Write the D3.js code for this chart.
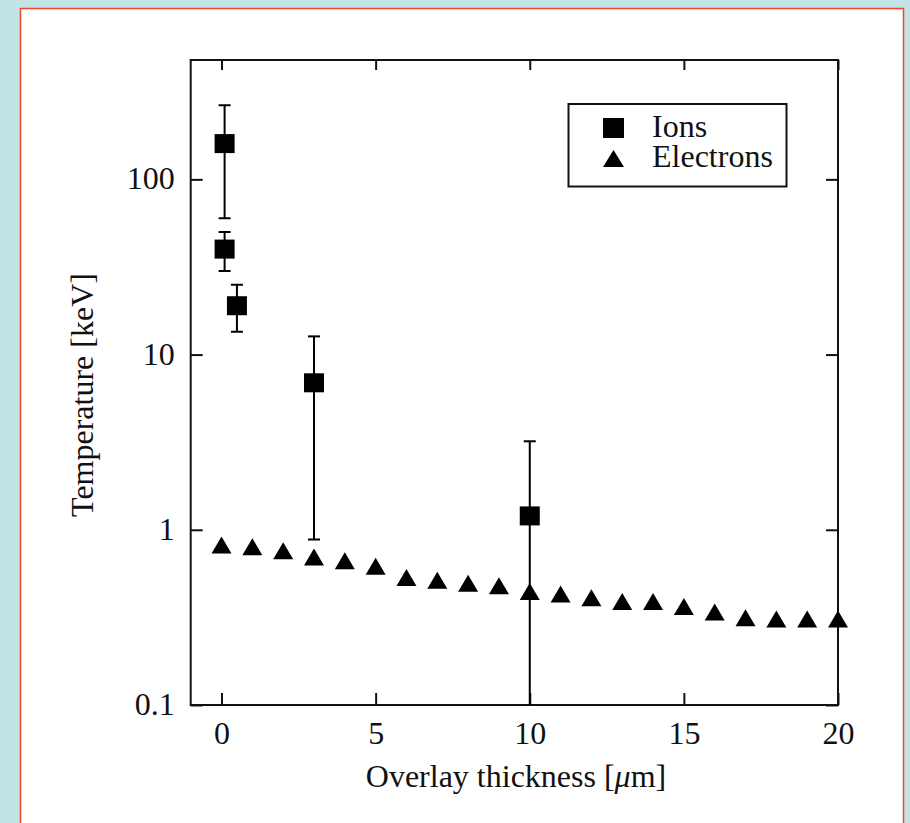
<!DOCTYPE html>
<html>
<head>
<meta charset="utf-8">
<script src="https://cdn.jsdelivr.net/npm/d3@7"></script>
<style>
  html, body { margin: 0; padding: 0; background: #c2e4e6; }
  svg { display: block; }
  text { font-family: "Liberation Serif", "Times New Roman", serif; fill: #111; }
</style>
</head>
<body>
<div id="canvas"></div>
<script>
// data
var ionX = [0.1, 0.1, 0.5, 3, 10];
var ionT = [160, 40, 19, 6.9, 1.2];
var ionHi = [265, 50, 25, 12.7, 3.2];
var ionLo = [60, 30, 13.5, 0.88, 0.05];

var elecX = [0, 1, 2, 3, 4, 5, 6, 7, 8, 9, 10, 11, 12, 13, 14, 15, 16, 17, 18, 19, 20];
var elecT = [0.82, 0.80, 0.76, 0.70, 0.665, 0.62, 0.535, 0.515, 0.495, 0.48, 0.445,
             0.43, 0.41, 0.39, 0.39, 0.365, 0.34, 0.315, 0.31, 0.31, 0.31];

var xTicks = [0, 5, 10, 15, 20];
var yTicks = [0.1, 1, 10, 100];

var W = 910, H = 823;
var LEFT = 190.7, RIGHT = 838, TOP = 60, BOTTOM = 705;
var FONT = 32;

var svg = d3.select('#canvas').append('svg')
    .attr('width', W)
    .attr('height', H);

// page panel
svg.append('rect')
    .attr('x', 20.5).attr('y', 8.5)
    .attr('width', 883).attr('height', 840)
    .attr('fill', 'white')
    .attr('stroke', '#f5432a')
    .attr('stroke-width', 1.5);

var x = d3.scaleLinear().domain([-1, 20]).range([LEFT, RIGHT]);
var y = d3.scaleLog().domain([0.1, 480]).range([BOTTOM, TOP]);

svg.append('clipPath').attr('id', 'plotclip')
  .append('rect')
    .attr('x', LEFT).attr('y', TOP)
    .attr('width', RIGHT - LEFT).attr('height', BOTTOM - TOP);

// axes, ticks point inward
var axB = svg.append('g')
    .attr('transform', 'translate(0,' + BOTTOM + ')')
    .call(d3.axisBottom(x).tickValues(xTicks).tickSize(-12).tickSizeOuter(0).tickPadding(16));
var axT = svg.append('g')
    .attr('transform', 'translate(0,' + TOP + ')')
    .call(d3.axisTop(x).tickValues(xTicks).tickSize(-10).tickSizeOuter(0).tickFormat(''));
var axL = svg.append('g')
    .attr('transform', 'translate(' + LEFT + ',0)')
    .call(d3.axisLeft(y).tickValues(yTicks).tickSize(-12).tickSizeOuter(0).tickPadding(16)
        .tickFormat(d3.format('~g')));
var axR = svg.append('g')
    .attr('transform', 'translate(' + RIGHT + ',0)')
    .call(d3.axisRight(y).tickValues(yTicks).tickSize(-12).tickSizeOuter(0).tickFormat(''));

[axB, axT, axL, axR].forEach(function(a) {
    a.select('.domain').remove();
    a.selectAll('line').attr('stroke', '#111').attr('stroke-width', 2);
    a.selectAll('text')
        .style('font-family', '"Liberation Serif", serif')
        .style('font-size', FONT + 'px')
        .attr('fill', '#111');
});
axL.selectAll('text').attr('dy', '0.3em');

// frame
svg.append('rect')
    .attr('x', LEFT).attr('y', TOP)
    .attr('width', RIGHT - LEFT).attr('height', BOTTOM - TOP)
    .attr('fill', 'none')
    .attr('stroke', '#111')
    .attr('stroke-width', 2);

// axis titles
svg.append('text')
    .attr('x', 516).attr('y', 787)
    .attr('text-anchor', 'middle')
    .style('font-size', FONT + 'px')
    .html('Overlay thickness [<tspan font-style="italic">\u03bc</tspan>m]');

svg.append('text')
    .attr('transform', 'translate(93,395) rotate(-90)')
    .attr('text-anchor', 'middle')
    .style('font-size', FONT + 'px')
    .text('Temperature [keV]');

var clipped = svg.append('g').attr('clip-path', 'url(#plotclip)');
var marks = svg.append('g');

function triPath(cx, cy, w, h) {
    return 'M' + (cx - w / 2) + ',' + (cy + h / 2) +
        'L' + cx + ',' + (cy - h / 2) +
        'L' + (cx + w / 2) + ',' + (cy + h / 2) + 'Z';
}

// electrons
marks.selectAll('.tri')
    .data(elecX)
    .enter()
    .append('path')
    .attr('class', 'tri')
    .attr('d', function(d, i) { return triPath(x(d), y(elecT[i]), 20, 17); })
    .attr('fill', 'black');

// ions with error bars
var CAP = 6;
ionX.forEach(function(d, i) {
    var cx = x(d);
    clipped.append('line')
        .attr('x1', cx).attr('x2', cx)
        .attr('y1', y(ionHi[i])).attr('y2', y(ionLo[i]))
        .attr('stroke', 'black').attr('stroke-width', 2);
    [ionHi[i], ionLo[i]].forEach(function(v) {
        clipped.append('line')
            .attr('x1', cx - CAP).attr('x2', cx + CAP)
            .attr('y1', y(v)).attr('y2', y(v))
            .attr('stroke', 'black').attr('stroke-width', 2);
    });
    marks.append('rect')
        .attr('x', cx - 10).attr('y', y(ionT[i]) - 9.5)
        .attr('width', 20).attr('height', 19)
        .attr('fill', 'black');
});

// legend
var lg = svg.append('g');
lg.append('rect')
    .attr('x', 568.5).attr('y', 104)
    .attr('width', 218).attr('height', 82.5)
    .attr('fill', 'white')
    .attr('stroke', '#111')
    .attr('stroke-width', 2);
lg.append('rect')
    .attr('x', 603).attr('y', 118)
    .attr('width', 21).attr('height', 20)
    .attr('fill', 'black');
lg.append('path')
    .attr('d', triPath(613.5, 158.5, 21, 17))
    .attr('fill', 'black');
lg.append('text')
    .attr('x', 652).attr('y', 137)
    .style('font-size', FONT + 'px')
    .text('Ions');
lg.append('text')
    .attr('x', 652).attr('y', 167)
    .style('font-size', FONT + 'px')
    .text('Electrons');
</script>
</body>
</html>
